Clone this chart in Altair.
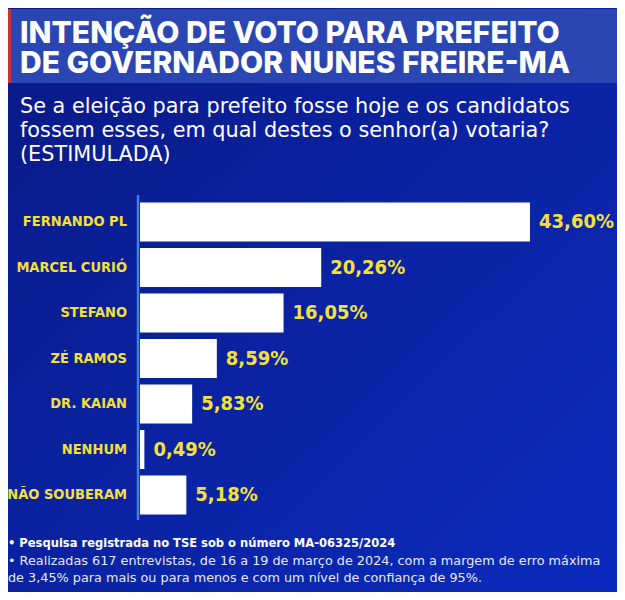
import altair as alt
import pandas as pd

# ---- data ----
candidates = ["FERNANDO PL", "MARCEL CURIÓ", "STEFANO", "ZÉ RAMOS", "DR. KAIAN", "NENHUM", "NÃO SOUBERAM"]
values = [43.60, 20.26, 16.05, 8.59, 5.83, 0.49, 5.18]
title_lines = ["INTENÇÃO DE VOTO PARA PREFEITO", "DE GOVERNADOR NUNES FREIRE-MA"]
subtitle_lines = [
    "Se a eleição para prefeito fosse hoje e os candidatos",
    "fossem esses, em qual destes o senhor(a) votaria?",
    "(ESTIMULADA)",
]
footer_bold = "• Pesquisa registrada no TSE sob o número MA-06325/2024"
footer_lines = [
    "• Realizadas 617 entrevistas, de 16 a 19 de março de 2024, com a margem de erro máxima",
    "  de 3,45% para mais ou para menos e com um nível de confiança de 95%.",
]

W, H = 609, 584
YELLOW = "#f3e03b"
NARROW = "DejaVu Sans Condensed"

df = pd.DataFrame({
    "cand": candidates,
    "pct": values,
    "label": [f"{v:.2f}".replace(".", ",") + "%" for v in values],
})
one = pd.DataFrame({"a": [0]})

bg = alt.Chart(one).mark_rect(
    color=alt.LinearGradient(
        gradient="linear",
        stops=[alt.GradientStop(offset=0, color="#0a1a86"),
               alt.GradientStop(offset=1, color="#0b2bbd")],
        x1=0, y1=0, x2=1, y2=1,
    )
).encode(x=alt.value(0), x2=alt.value(W), y=alt.value(0), y2=alt.value(H))

banner = alt.Chart(one).mark_rect(color="#2a46b2").encode(
    x=alt.value(0), x2=alt.value(W), y=alt.value(1), y2=alt.value(75)
)
stripe = alt.Chart(one).mark_rect(color="#c8323c").encode(
    x=alt.value(0), x2=alt.value(3), y=alt.value(1), y2=alt.value(75)
)

def text_layer(txt, x, y, size, weight="normal", font="Inter", color="white", align="left"):
    return alt.Chart(one).mark_text(
        text=txt, align=align, baseline="alphabetic", fontSize=size,
        fontWeight=weight, font=font, color=color,
    ).encode(x=alt.value(x), y=alt.value(y))

titles = [text_layer(t, 12, 35 + i * 30, 30, weight=800) for i, t in enumerate(title_lines)]
subs = [text_layer(t, 12, 105 + i * 24, 20.8, font="DejaVu Sans") for i, t in enumerate(subtitle_lines)]
foot = [text_layer(footer_bold, 0, 539, 12.8, weight="bold", font=NARROW)]
foot += [text_layer(t, 0, 557 + i * 17, 12.8, font="DejaVu Sans", color="#e6e9f5") for i, t in enumerate(footer_lines)]

xs = alt.Scale(domain=[0, 43.6], range=[132, 522])
ys = alt.Scale(domain=candidates, range=[191.25, 509.75], paddingInner=0.143, paddingOuter=0.0715)

bars = alt.Chart(df).mark_bar(color="white", cornerRadius=0).encode(
    x=alt.X("pct:Q", scale=xs, axis=None),
    x2=alt.value(132),
    y=alt.Y("cand:N", scale=ys, axis=None, sort=candidates),
)
vals = alt.Chart(df).mark_text(
    align="left", baseline="middle", dx=9, fontSize=20, fontWeight="bold", font=NARROW, color=YELLOW
).encode(
    x=alt.X("pct:Q", scale=xs, axis=None),
    y=alt.Y("cand:N", scale=ys, axis=None, sort=candidates),
    text="label:N",
)
names = alt.Chart(df).mark_text(
    align="right", baseline="middle", fontSize=14.5, fontWeight="bold", font=NARROW, color=YELLOW
).encode(
    x=alt.value(119),
    y=alt.Y("cand:N", scale=ys, axis=None, sort=candidates),
    text="cand:N",
)
axis_line = alt.Chart(one).mark_rule(color="#3f80e6", strokeWidth=2.5).encode(
    x=alt.value(130), y=alt.value(187), y2=alt.value(512)
)

chart = alt.layer(
    bg, banner, stripe, *titles, *subs, axis_line, bars, vals, names, *foot
).properties(
    width=W, height=H, padding=0, autosize=alt.AutoSizeParams(type="none"), background="#0a1a86"
).configure_view(stroke=None)

chart.save("out.html", embed_options={"renderer": "svg", "actions": False})
